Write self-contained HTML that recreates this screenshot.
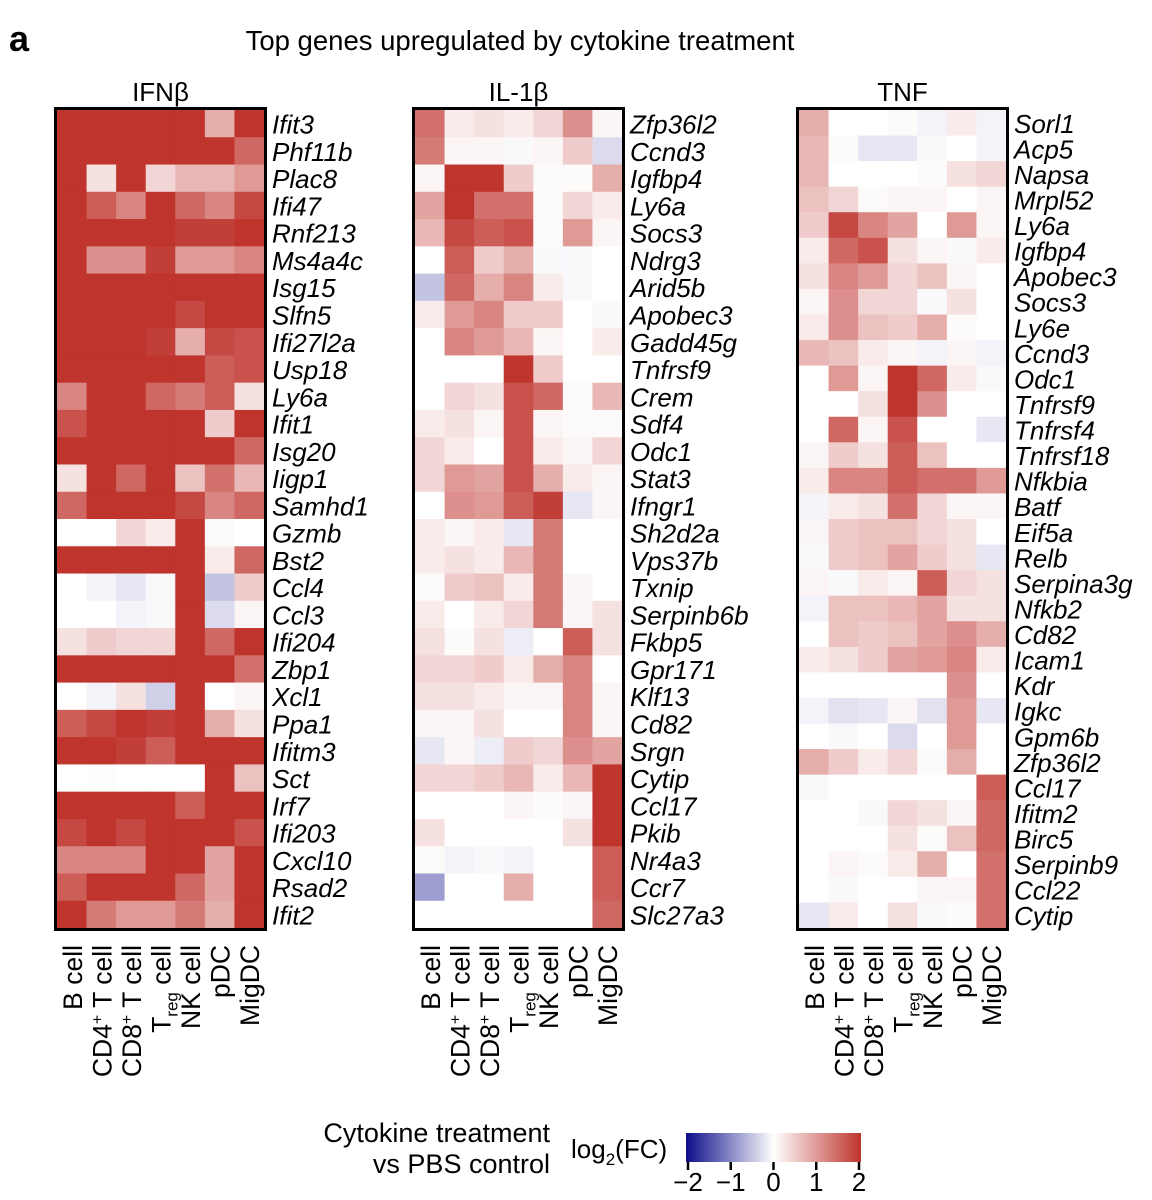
<!DOCTYPE html>
<html><head><meta charset="utf-8"><style>
html,body{margin:0;padding:0;background:#fff;}
svg{display:block;font-family:"Liberation Sans",Arial,sans-serif;}
</style></head><body>
<svg id="fig" width="1152" height="1200" viewBox="0 0 1152 1200" xmlns="http://www.w3.org/2000/svg">
<text x="9" y="51" font-size="36" font-weight="bold">a</text>
<text x="520" y="50" font-size="27.5" text-anchor="middle">Top genes upregulated by cytokine treatment</text>
<g id="panels"></g>
<g id="legend">
<text x="550" y="1142" font-size="27" text-anchor="end">Cytokine treatment</text>
<text x="550" y="1173" font-size="27" text-anchor="end">vs PBS control</text>
<text x="571" y="1158" font-size="26">log<tspan font-size="17" dy="7">2</tspan><tspan dy="-7">(FC)</tspan></text>
<defs><linearGradient id="cb" x1="0" x2="1" y1="0" y2="0">
<stop offset="0" stop-color="#0d0d8a"/><stop offset="0.5" stop-color="#ffffff"/><stop offset="1" stop-color="#bf342d"/></linearGradient></defs>
<rect x="686" y="1133" width="175" height="29" fill="url(#cb)"/>
<g id="cbticks"></g>
</g>
</svg>
<script>
const cellTypes = ["B cell","CD4+ T cell","CD8+ T cell","Treg cell","NK cell","pDC","MigDC"];
const panelTitles = ["IFNβ","IL-1β","TNF"];
const genesIFN = ["Ifit3","Phf11b","Plac8","Ifi47","Rnf213","Ms4a4c","Isg15","Slfn5","Ifi27l2a","Usp18","Ly6a","Ifit1","Isg20","Iigp1","Samhd1","Gzmb","Bst2","Ccl4","Ccl3","Ifi204","Zbp1","Xcl1","Ppa1","Ifitm3","Sct","Irf7","Ifi203","Cxcl10","Rsad2","Ifit2"];
const valuesIFN = [
[2,2,2,2,2,0.8,2],[2,2,2,2,2,2,1.5],[2,0.3,2,0.4,0.7,0.7,1.0],[2,1.6,1.2,2,1.5,1.2,1.8],
[2,2,2,2,1.9,1.9,2],[2,1.1,1.1,1.9,1.0,1.0,1.2],[2,2,2,2,2,2,2],[2,2,2,2,1.8,2,2],
[2,2,2,1.9,0.8,1.8,1.7],[2,2,2,2,2,1.6,1.7],[1.2,2,2,1.5,1.3,1.6,0.3],[1.7,2,2,2,2,0.5,2],
[2,2,2,2,2,2,1.5],[0.3,2,1.5,2,0.6,1.4,0.7],[1.5,2,2,2,1.8,1.2,1.5],[0,0,0.4,0.2,2,0.05,0],
[2,2,2,2,2,0.2,1.5],[0,-0.1,-0.2,-0.05,2,-0.5,0.5],[0,0,-0.1,-0.05,2,-0.3,0.1],[0.3,0.5,0.4,0.4,2,1.5,2],
[2,2,2,2,2,2,1.4],[0,-0.1,0.3,-0.4,2,0,0.1],[1.6,1.8,2,1.9,2,0.8,0.3],[2,2,1.9,1.6,2,2,2],
[0,0.02,0,0,0,2,0.6],[2,2,2,2,1.6,2,2],[1.8,2,1.8,2,2,2,1.7],[1.2,1.2,1.2,2,2,0.9,2],
[1.6,2,2,2,1.5,0.9,2],[2,1.3,1.0,1.0,1.3,0.8,2]];
const genesIL1 = ["Zfp36l2","Ccnd3","Igfbp4","Ly6a","Socs3","Ndrg3","Arid5b","Apobec3","Gadd45g","Tnfrsf9","Crem","Sdf4","Odc1","Stat3","Ifngr1","Sh2d2a","Vps37b","Txnip","Serpinb6b","Fkbp5","Gpr171","Klf13","Cd82","Srgn","Cytip","Ccl17","Pkib","Nr4a3","Ccr7","Slc27a3"];
const valuesIL1 = [
[1.4,0.2,0.3,0.2,0.4,1.1,0.1],[1.3,0.1,0.1,-0.05,0.1,0.5,-0.3],[0.1,2,2,0.5,0.05,0.05,0.8],[0.9,2,1.4,1.4,0.05,0.4,0.2],
[0.7,1.8,1.6,1.7,0.05,1.0,0.1],[0,1.6,0.5,0.8,-0.05,-0.05,0],[-0.5,1.5,0.8,1.2,0.2,-0.05,0],[0.2,1.0,1.2,0.5,0.5,0,-0.05],
[0,1.2,1.0,0.7,0.1,0,0.2],[0,0,0,2,0.5,0,0],[0,0.4,0.3,1.7,1.5,0.05,0.7],[0.2,0.3,0.1,1.7,0.1,0.05,0.05],
[0.4,0.2,0,1.7,0.2,0.1,0.4],[0.4,1.0,0.9,1.7,0.8,0.2,0.1],[0,1.1,1.0,1.6,1.9,-0.2,0.1],[0.2,0.1,0.2,-0.2,1.3,0,0],
[0.2,0.3,0.2,0.7,1.3,0,0],[0.05,0.5,0.6,0.2,1.3,0.1,0],[0.2,0,0.2,0.4,1.3,0.1,0.3],[0.3,0.05,0.3,-0.15,0,1.6,0.3],
[0.4,0.4,0.5,0.2,0.8,1.2,0],[0.3,0.3,0.2,0.1,0.1,1.2,0.1],[0.1,0.1,0.3,0,0,1.2,0.1],[-0.2,0.1,-0.15,0.5,0.4,1.1,0.9],
[0.4,0.4,0.5,0.7,0.2,0.7,2],[0,0,0,0.1,0.05,0.1,2],[0.3,0,0,0,0,0.3,2],[0.05,-0.1,-0.05,-0.1,0,0,1.6],
[-0.8,0,0,0.8,0,0,1.6],[0,0,0,0,0,0,1.5]];
const genesTNF = ["Sorl1","Acp5","Napsa","Mrpl52","Ly6a","Igfbp4","Apobec3","Socs3","Ly6e","Ccnd3","Odc1","Tnfrsf9","Tnfrsf4","Tnfrsf18","Nfkbia","Batf","Eif5a","Relb","Serpina3g","Nfkb2","Cd82","Icam1","Kdr","Igkc","Gpm6b","Zfp36l2","Ccl17","Ifitm2","Birc5","Serpinb9","Ccl22","Cytip"];
const valuesTNF = [
[0.8,0,0,0.05,-0.1,0.2,-0.1],[0.7,0.05,-0.2,-0.2,-0.05,0,-0.1],[0.7,0,0,0,0.05,0.3,0.4],[0.6,0.4,0.05,0.1,0.1,0,0.1],
[0.5,1.8,1.2,0.9,0,1.0,0.1],[0.2,1.5,1.7,0.3,0.1,-0.05,0.2],[0.3,1.2,1.0,0.4,0.6,0.1,0],[0.1,1.1,0.4,0.4,-0.05,0.3,0],
[0.2,1.1,0.6,0.5,0.8,0.05,0],[0.7,0.6,0.2,0.1,-0.1,0.1,-0.1],[0,1.0,0.1,2,1.5,0.2,-0.05],[0,0,0.3,2,1.1,0,0],
[0,1.5,0.1,1.7,0,0,-0.2],[0.1,0.5,0.3,1.6,0.6,0,0],[0.2,1.2,1.2,1.6,1.4,1.4,1.0],[-0.1,0.2,0.3,1.4,0.4,0.1,0.1],
[0.1,0.5,0.6,0.6,0.4,0.3,0],[-0.05,0.5,0.6,0.9,0.5,0.3,-0.2],[0.1,-0.05,0.2,0.1,1.6,0.4,0.3],[-0.1,0.6,0.6,0.7,0.9,0.3,0.3],
[0,0.6,0.5,0.6,0.9,1.1,0.8],[0.2,0.3,0.5,0.9,1.0,1.2,0.2],[0,0,0,0,0,1.1,0],[-0.1,-0.25,-0.2,0.1,-0.25,1.0,-0.2],
[0,-0.05,0,-0.3,0,1.0,0],[0.8,0.5,0.2,0.4,0.05,0.8,0],[-0.05,0,0,0,0,0,1.6],[0,0,-0.05,0.4,0.3,0.1,1.5],
[0,0,0,0.3,0.05,0.6,1.5],[0,0.1,0.05,0.2,0.8,0,1.4],[0,-0.05,0,0,0.1,0.1,1.4],[-0.2,0.2,0,0.3,-0.05,0.05,1.4]];
const legendTicks = [-2,-1,0,1,2];

(function(){
const NS = "http://www.w3.org/2000/svg";
function mk(tag, attrs, parent){const e=document.createElementNS(NS,tag);for(const k in attrs)e.setAttribute(k,attrs[k]);parent.appendChild(e);return e;}
function color(v){
  v=Math.max(-2,Math.min(2,v));const t=Math.abs(v)/2;
  const end=v>=0?[191,52,45]:[13,13,138];
  const c=end.map(e=>Math.round(255+(e-255)*t));
  return "rgb("+c.join(",")+")";
}
const panelsG=document.getElementById("panels");
const panelX=[57,415,799];
const innerW=207, yTop=110, yBottom=928;
const sets=[[genesIFN,valuesIFN],[genesIL1,valuesIL1],[genesTNF,valuesTNF]];
const names=["ifnb","il1b","tnf"];
sets.forEach(([genes,vals],p)=>{
  const x0=panelX[p];
  const colW=innerW/cellTypes.length;
  const rowH=(yBottom-yTop)/genes.length;
  const xs=i=>x0+i*colW;
  const ys=j=>yTop+j*rowH;
  const g=mk("g",{},panelsG);
  
  
  const tt=mk("text",{x:x0+innerW/2,y:101,"font-size":26,"text-anchor":"middle"},g);
  tt.textContent=panelTitles[p];
  
  
  vals.forEach((row,j)=>{
    row.forEach((v,i)=>{
      const r=mk("rect",{x:xs(i),y:ys(j),width:colW+0.6,height:rowH+0.6,fill:color(v)},g);
      
      
    });
    const t=mk("text",{x:x0+innerW+8,y:ys(j)+rowH/2+10,"font-size":26,"font-style":"italic"},g);
    t.textContent=genes[j];
    
    
  });
  const b=mk("rect",{x:x0-1.5,y:yTop-1.5,width:innerW+3,height:yBottom-yTop+3,fill:"none",stroke:"#000","stroke-width":3},g);
  
  
  cellTypes.forEach((c,i)=>{
    const cx=xs(i)+colW/2+10, cy=945;
    const t=mk("text",{x:cx,y:cy,"font-size":26.5,"text-anchor":"end",transform:"rotate(-90 "+cx+" "+cy+")"},g);
    if(c==="Treg cell"){t.innerHTML='T<tspan font-size="17" dy="7">reg</tspan><tspan dy="-7"> cell</tspan>';}
    else if(c.indexOf("+")>0){const parts=c.split("+");t.innerHTML=parts[0]+'<tspan font-size="16" dy="-9">+</tspan><tspan dy="9">'+parts[1]+'</tspan>';}
    else t.textContent=c;
    
    
  });
});
const cbg=document.getElementById("cbticks");
const cbx=v=>688+(v+2)/4*171;
legendTicks.forEach(v=>{
  const l=mk("line",{x1:cbx(v),x2:cbx(v),y1:1162,y2:1170,stroke:"#000","stroke-width":2.5},cbg);
  
  
  const t=mk("text",{x:cbx(v),y:1191,"font-size":26,"text-anchor":"middle"},cbg);
  t.textContent=v<0?"\u2212"+Math.abs(v):String(v);
  
  
});
})();
</script>
</body></html>
